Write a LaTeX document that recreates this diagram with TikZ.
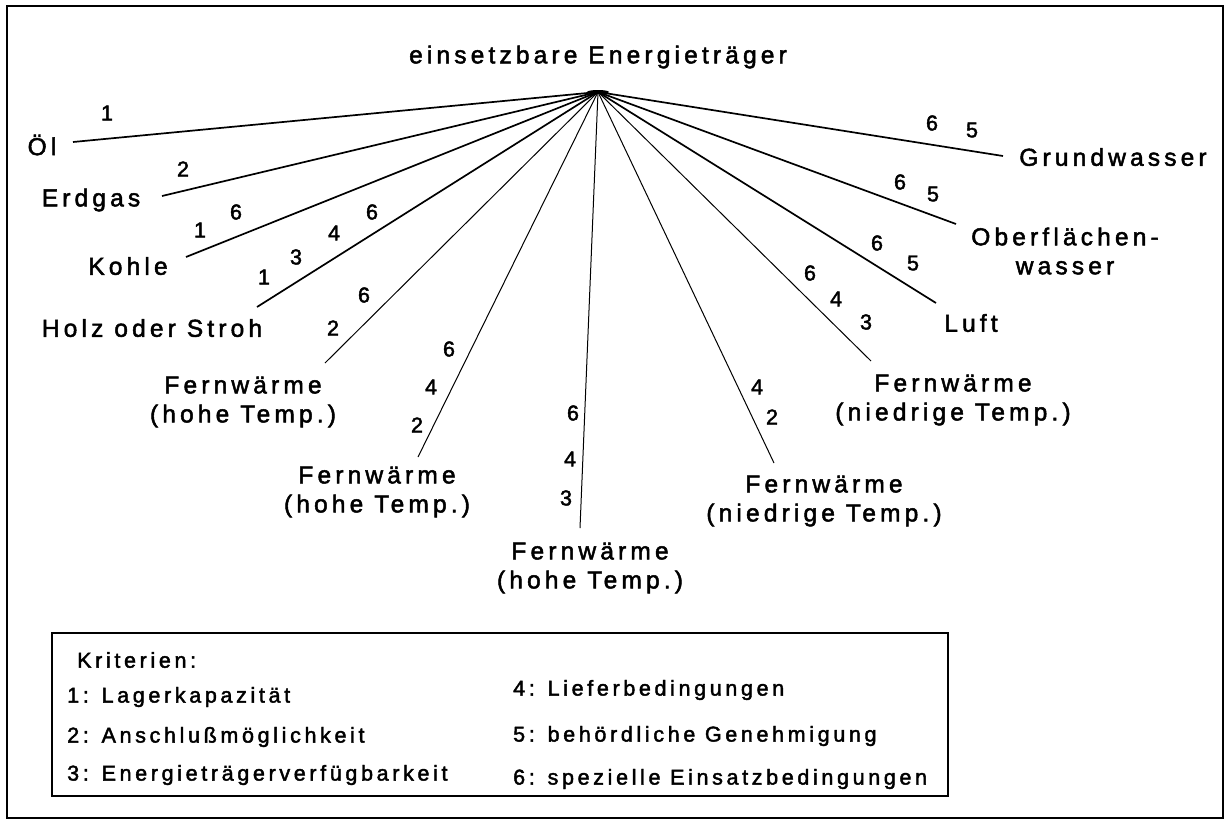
\documentclass[tikz,border=0pt]{standalone}
\usepackage{fontspec}
\setmainfont{Liberation Sans}[LetterSpace=17, FakeBold=2]
\begin{document}
\begin{tikzpicture}[x=1pt,y=-1pt,
  lbl/.style={inner sep=0pt, font=\fontsize{24.5}{29}\selectfont, align=center},
  num/.style={inner sep=0pt, font=\fontsize{21.5}{25}\selectfont},
  leg/.style={inner sep=0pt, anchor=west, font=\fontsize{21.5}{25}\selectfont},
  heavyray/.style={line width=1.7pt},
  lightray/.style={line width=1pt},
  frame/.style={line width=1.4pt}]

\useasboundingbox (0,0) rectangle (1230,825);
\fill[white] (0,0) rectangle (1230,825);
\draw[frame] (7,6) rectangle (1223,818);

% title and common origin of all rays
\node[lbl] (title) at (598,57) {einsetzbare Energieträger};
\coordinate (hub) at (598,92);

% labels of the energy carriers
\node[lbl] (oel)    at (42,145)  {Öl};
\node[lbl] (erdgas) at (91,200)  {Erdgas};
\node[lbl] (kohle)  at (128,266) {Kohle};
\node[lbl] (holz)   at (152,328) {Holz oder Stroh};
\node[lbl] (fwa)    at (243,402) {Fernwärme\\(hohe Temp.)};
\node[lbl] (fwb)    at (377,492) {Fernwärme\\(hohe Temp.)};
\node[lbl] (fwc)    at (590,568) {Fernwärme\\(hohe Temp.)};
\node[lbl] (fwd)    at (824,501) {Fernwärme\\(niedrige Temp.)};
\node[lbl] (fwe)    at (953,400) {Fernwärme\\(niedrige Temp.)};
\node[lbl] (luft)   at (971,323) {Luft};
\node[lbl] (ofw)    at (1065,251) {Oberflächen-\\wasser};
\node[lbl] (gw)     at (1113,157) {Grundwasser};

% free ends of the rays
\coordinate (e-oel)    at (73,142);
\coordinate (e-erdgas) at (162,196);
\coordinate (e-kohle)  at (186,257);
\coordinate (e-holz)   at (257,307);
\coordinate (e-fwa)    at (325,363);
\coordinate (e-fwb)    at (418,457);
\coordinate (e-fwc)    at (580,528);
\coordinate (e-fwd)    at (774,463);
\coordinate (e-fwe)    at (871,361);
\coordinate (e-luft)   at (936,303);
\coordinate (e-ofw)    at (956,224);
\coordinate (e-gw)     at (1003,156);

% rays
\foreach \e in {oel,erdgas,kohle,holz,luft,ofw,gw}
  \draw[heavyray] (hub) -- (e-\e);
\foreach \e in {fwa,fwb,fwc,fwd,fwe}
  \draw[lightray] (hub) -- (e-\e);
\fill (hub) ellipse [x radius=11, y radius=2];

% criteria numbers along the rays
\node[num] (n-oel-1)    at (107,113) {1};
\node[num] (n-erdgas-2) at (183,169) {2};
\node[num] (n-kohle-1)  at (200,230) {1};
\node[num] (n-kohle-6)  at (236,212) {6};
\node[num] (n-holz-1)   at (264,277) {1};
\node[num] (n-holz-3)   at (296,257) {3};
\node[num] (n-holz-4)   at (334,233) {4};
\node[num] (n-holz-6)   at (372,212) {6};
\node[num] (n-fwa-6)    at (364,295) {6};
\node[num] (n-fwa-2)    at (333,328) {2};
\node[num] (n-fwb-6)    at (449,349) {6};
\node[num] (n-fwb-4)    at (431,387) {4};
\node[num] (n-fwb-2)    at (417,425) {2};
\node[num] (n-fwc-6)    at (573,413) {6};
\node[num] (n-fwc-4)    at (570,459) {4};
\node[num] (n-fwc-3)    at (566,498) {3};
\node[num] (n-fwd-4)    at (757,387) {4};
\node[num] (n-fwd-2)    at (772,417) {2};
\node[num] (n-fwe-6)    at (810,273) {6};
\node[num] (n-fwe-4)    at (836,299) {4};
\node[num] (n-fwe-3)    at (866,322) {3};
\node[num] (n-luft-6)   at (877,243) {6};
\node[num] (n-luft-5)   at (913,263) {5};
\node[num] (n-ofw-6)    at (900,182) {6};
\node[num] (n-ofw-5)    at (933,194) {5};
\node[num] (n-gw-6)     at (932,123) {6};
\node[num] (n-gw-5)     at (972,130) {5};

% legend of criteria
\draw[frame] (52,633) rectangle (948,796);
\node[leg] (k0) at (77,660)  {Kriterien:};
\node[leg] (k1) at (67,697)  {1: Lagerkapazität};
\node[leg] (k2) at (67,737)  {2: Anschlußmöglichkeit};
\node[leg] (k3) at (67,775)  {3: Energieträgerverfügbarkeit};
\node[leg] (k4) at (513,690) {4: Lieferbedingungen};
\node[leg] (k5) at (513,736) {5: behördliche Genehmigung};
\node[leg] (k6) at (513,779) {6: spezielle Einsatzbedingungen};
\end{tikzpicture}
\end{document}
